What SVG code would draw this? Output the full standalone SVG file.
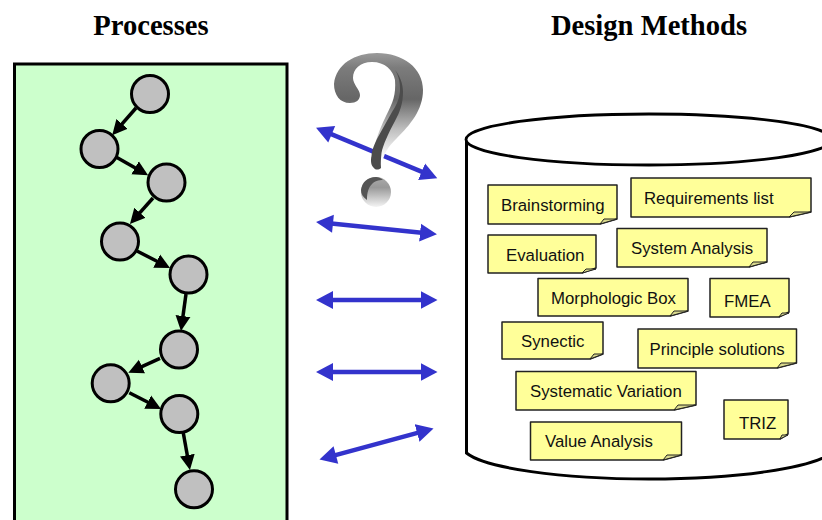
<svg xmlns="http://www.w3.org/2000/svg" width="822" height="520" viewBox="0 0 822 520">
<style>
.title{font:bold 28.6px "Liberation Serif",serif;fill:#000}
.nt{font:16.8px "Liberation Sans",Arial,sans-serif;fill:#111}
.note{fill:#ffff99;stroke:#222;stroke-width:1.5;stroke-linejoin:round}
.fold{fill:#d8d88c;stroke:#222;stroke-width:1}
.proc{fill:#c0c0c0;stroke:#000;stroke-width:3}
.flow{stroke:#000;stroke-width:3.500;fill:none;marker-end:url(#bh)}
.bi{stroke:#3333cc;stroke-width:4.500;fill:none;marker-start:url(#bs);marker-end:url(#be)}
</style>
<defs>
<marker id="bh" markerUnits="userSpaceOnUse" markerWidth="16" markerHeight="16" refX="8" refY="8" orient="auto"><path d="M0 0.500L15 8L0 15.500Z" fill="#000"/></marker>
<marker id="be" markerUnits="userSpaceOnUse" markerWidth="18" markerHeight="19" refX="9" refY="9.500" orient="auto"><path d="M0 0.500L17 9.500L0 18.500Z" fill="#3333cc"/></marker>
<marker id="bs" markerUnits="userSpaceOnUse" markerWidth="18" markerHeight="19" refX="8" refY="9.500" orient="auto"><path d="M17 0.500L0 9.500L17 18.500Z" fill="#3333cc"/></marker>
<linearGradient id="qg" gradientUnits="userSpaceOnUse" x1="0" y1="53" x2="0" y2="158"><stop offset="0" stop-color="#9a9a9a"/><stop offset=".14" stop-color="#7c7c7c"/><stop offset=".44" stop-color="#666"/><stop offset=".72" stop-color="#bdbdbd"/><stop offset="1" stop-color="#fff"/></linearGradient>
<linearGradient id="dg" gradientUnits="userSpaceOnUse" x1="0" y1="177" x2="0" y2="207"><stop offset="0" stop-color="#aaa"/><stop offset=".35" stop-color="#999"/><stop offset="1" stop-color="#f4f4f4"/></linearGradient>
</defs>
<text class="title" x="151" y="35" text-anchor="middle">Processes</text>
<text class="title" x="649" y="35" text-anchor="middle">Design Methods</text>
<rect id="panel" x="14.500" y="64" width="272.500" height="470" fill="#ccffcc" stroke="#000" stroke-width="3"/>
<g id="cylinder" fill="#fff" stroke="#000">
<path d="M466.500 139V453C485 468 560 479 649 479C740 479 810 468 832 453V139Z" stroke-width="3"/>
<ellipse cx="649" cy="139.500" rx="183" ry="25.500" stroke-width="2.800"/>
</g>
<g id="connectors">
<path class="flow" d="M136 108L116.800 129.900"/>
<path class="flow" d="M116 157L142 171.800"/>
<path class="flow" d="M153 198L134.600 218.700"/>
<path class="flow" d="M137 251L163.800 264.800"/>
<path class="flow" d="M186 294L181.900 324"/>
<path class="flow" d="M160 358.300L134.700 369.800"/>
<path class="flow" d="M129.300 392.700L154.800 405.800"/>
<path class="flow" d="M183.300 433L188.700 463"/>
<path class="bi" d="M323.400 130.800L429.900 175.200"/>
<path class="bi" d="M324 222.800L429 233.500"/>
<path class="bi" d="M324 300H429.500"/>
<path class="bi" d="M324 372H429.500"/>
<path class="bi" d="M327.200 457.400L425.800 430.600"/>
</g>
<g id="question">
<path d="M334 84C336 64 355 53 377 53C403 53 423 68 423 90C423 110 410 125 397 138C388 147 384 152 381 168L372 160C373 148 378 132 386 116C393 102 396 95 395 80C393 70 385 62 372 62C360 62 353 69 353 78C353 84 360 90 360 95C360 100 356 103 350 103C340 103 334 95 334 84Z" fill="url(#qg)"/>
<path d="M395 70C399 76 400.500 84 400 92C399 100 396 106 392 112L378 137C374 145 372 150 371.500 156C370.500 160 371 165 373 167C375 170 378 170.500 381 168C380.500 163 381 158 381.500 153C383 145 388 134 395 121C400 112 403 103 403 92C403 84 400 76 395 70Z" fill="#4c4c4c"/>
<ellipse cx="376" cy="192" rx="15" ry="15" fill="url(#dg)"/>
<path d="M361 190C362 182 368 177 376 177C378 177 381 178 383 180C374 180 367 185 367 200C363 197 361 194 361 190Z" fill="#555"/>
</g>
<g id="p1"><circle class="proc" cx="150" cy="94" r="18.500"/></g>
<g id="p2"><circle class="proc" cx="99.500" cy="149" r="18.500"/></g>
<g id="p3"><circle class="proc" cx="166.500" cy="182.500" r="18.500"/></g>
<g id="p4"><circle class="proc" cx="120" cy="241.500" r="18.500"/></g>
<g id="p5"><circle class="proc" cx="188.500" cy="274.500" r="18.500"/></g>
<g id="p6"><circle class="proc" cx="179" cy="349.500" r="18.500"/></g>
<g id="p7"><circle class="proc" cx="110.700" cy="383.300" r="18.500"/></g>
<g id="p8"><circle class="proc" cx="179.300" cy="414" r="18.500"/></g>
<g id="p9"><circle class="proc" cx="194" cy="489.300" r="18.500"/></g>
<g id="m-brainstorming"><path class="note" d="M488 185H617V219L600 224H488Z"/><path class="fold" d="M600 224L604 219H617Z"/><text class="nt" x="501" y="211">Brainstorming</text></g>
<g id="m-requirements"><path class="note" d="M631 178H811V212L789 217H631Z"/><path class="fold" d="M789 217L794 212H811Z"/><text class="nt" x="644" y="204">Requirements list</text></g>
<g id="m-evaluation"><path class="note" d="M488 235H596V268L582 273H488Z"/><path class="fold" d="M582 273L586 269H596Z"/><text class="nt" x="506" y="261">Evaluation</text></g>
<g id="m-system"><path class="note" d="M617 228.500H767V262L749 267H617Z"/><path class="fold" d="M749 267L753 262H767Z"/><text class="nt" x="631" y="254">System Analysis</text></g>
<g id="m-morphologic"><path class="note" d="M538 278.500H688V311L670 316H538Z"/><path class="fold" d="M670 316L674 311H688Z"/><text class="nt" x="551" y="304">Morphologic Box</text></g>
<g id="m-fmea"><path class="note" d="M710 278.500H789V312L779 317H710Z"/><path class="fold" d="M779 317L782 313H789Z"/><text class="nt" x="724" y="306.500">FMEA</text></g>
<g id="m-synectic"><path class="note" d="M502 322H603V354L590 359H502Z"/><path class="fold" d="M590 359L594 354H603Z"/><text class="nt" x="521" y="347">Synectic</text></g>
<g id="m-principle"><path class="note" d="M638 329H796.500V363L777 368H638Z"/><path class="fold" d="M777 368L781 363H796.500Z"/><text class="nt" x="649.500" y="355">Principle solutions</text></g>
<g id="m-systematic"><path class="note" d="M516 371.500H696V405L674 410H516Z"/><path class="fold" d="M674 410L678 405H696Z"/><text class="nt" x="530" y="397">Systematic Variation</text></g>
<g id="m-triz"><path class="note" d="M724 400H788V434L780 439H724Z"/><path class="fold" d="M780 439L782 435H788Z"/><text class="nt" x="739" y="429">TRIZ</text></g>
<g id="m-value"><path class="note" d="M530.500 422H681.500V455L663 460H530.500Z"/><path class="fold" d="M663 460L667 455H681.500Z"/><text class="nt" x="545" y="447">Value Analysis</text></g>
</svg>
